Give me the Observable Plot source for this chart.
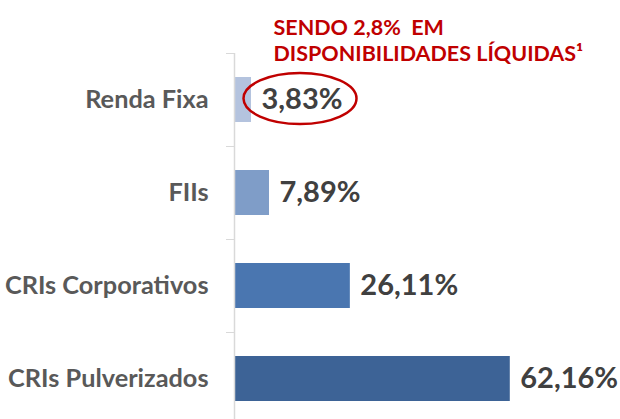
<!DOCTYPE html>
<html><head><meta charset="utf-8">
<script src="https://cdn.jsdelivr.net/npm/d3@7"></script>
<script src="https://cdn.jsdelivr.net/npm/@observablehq/plot@0.6"></script>
<style>body{margin:0;background:#fff;font-family:Lato,sans-serif}</style>
</head><body><div id="chart"></div>
<script>
const categories = ["Renda Fixa", "FIIs", "CRIs Corporativos", "CRIs Pulverizados"];
const values = [3.83, 7.89, 26.11, 62.16];
const valueLabels = ["3,83%", "7,89%", "26,11%", "62,16%"];
const barColors = ["#b4c3de", "#7f9dc8", "#4a76b0", "#3d6396"];
const noteLines = ["SENDO 2,8%  EM", "DISPONIBILIDADES LÍQUIDAS¹"];
const highlighted = "Renda Fixa";

const data = categories.map((c, i) => ({category: c, value: values[i], label: valueLabels[i]}));
const FONT = "Lato, sans-serif";

const chart = Plot.plot({
  width: 620,
  height: 419,
  marginLeft: 234,
  marginRight: 0,
  marginTop: 53,
  marginBottom: 0,
  style: {fontFamily: FONT, background: "#fff"},
  x: {domain: [0, 87], axis: null},
  y: {domain: categories, range: [53, 425], paddingInner: 0.52, paddingOuter: 0.26, axis: null},
  color: {domain: categories, range: barColors},
  marks: [
    Plot.barX(data, {x: "value", y: "category", fill: "category", insetLeft: 1}),
    Plot.ruleX([0], {stroke: "#d9d9d9", strokeWidth: 1.5}),
    Plot.axisY({tickSize: 8, tickFormat: () => "", label: null, dy: -46.5, stroke: "#d9d9d9", tickPadding: 0}),
    Plot.text(data, {frameAnchor: "left", y: "category", text: "category", textAnchor: "end", dx: -26,
      fontSize: 25.3, fontWeight: "bold", fill: "#595959"}),
    Plot.text(data, {x: "value", y: "category", text: "label", textAnchor: "start", dx: 10,
      fontSize: 29, fontWeight: "bold", fill: "#404040"}),
    Plot.text([noteLines.join("\n")], {frameAnchor: "top-left", dx: 39, dy: -36, lineAnchor: "top",
      lineHeight: 1.17, textAnchor: "start", fill: "#c00000", fontSize: 21.5, fontWeight: "bold"})
  ]
});
document.getElementById("chart").appendChild(chart);

// red ellipse highlighting the Renda Fixa value
const xs = chart.scale("x"), ys = chart.scale("y");
const hi = data.find(d => d.category === highlighted);
const cy = ys.apply(hi.category) + ys.bandwidth / 2;
const cx = xs.apply(hi.value) + 49;
d3.select(chart).append("ellipse")
  .attr("cx", cx).attr("cy", cy - 1).attr("rx", 56.5).attr("ry", 25.5)
  .attr("fill", "none").attr("stroke", "#c00000").attr("stroke-width", 2.5);
</script>
</body></html>
